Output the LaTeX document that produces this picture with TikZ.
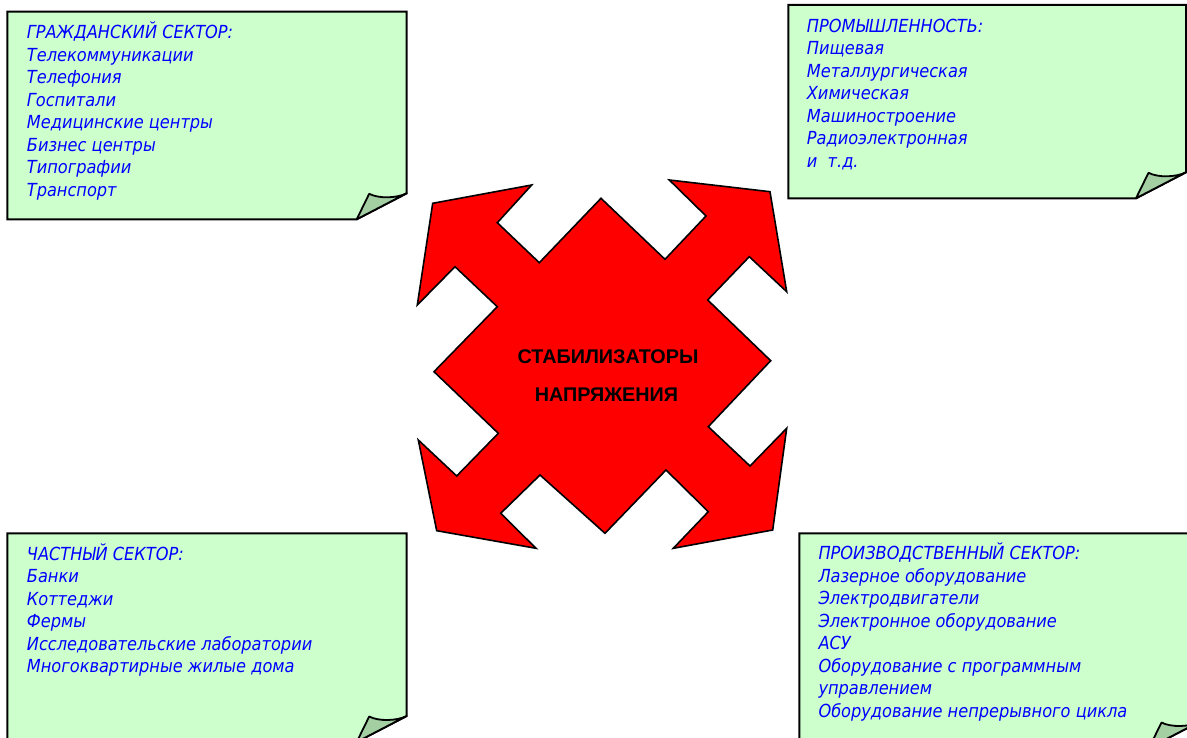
\documentclass[tikz,border=0pt]{standalone}
\usepackage{fontspec}
\newfontfamily\notefont{DejaVu Sans Condensed}
\newfontfamily\titlefont{Liberation Sans}
\definecolor{notegreen}{HTML}{CCFFCC}
\definecolor{flapgreen}{HTML}{A3CFA3}
\definecolor{notblue}{HTML}{0000FF}
\definecolor{arrred}{HTML}{FF0000}
\newcommand\NoteBox[4]{%
  \draw[boxline] (#1,#2) -- (#3,#2) -- (#3,{#4-26}) -- ({#3-50},#4) -- (#1,#4) -- cycle;
  \draw[flapline] ({#3-50},#4) -- ({#3-37.5},{#4-25.5}) .. controls ({#3-28},{#4-20.5}) and ({#3-10},{#4-21}) .. (#3,{#4-26}) -- cycle;
}
\begin{document}
\begin{tikzpicture}[x=1pt,y=-1pt,
  boxline/.style={draw=black,line width=2pt,fill=notegreen,line join=miter},
  flapline/.style={draw=black,line width=1.8pt,fill=flapgreen,line join=round},
  notetext/.style={anchor=base west,align=left,inner sep=0pt,text=notblue,
    font=\notefont\itshape\fontsize{18}{22.5}\selectfont},
  crosslabel/.style={anchor=base,inner sep=0pt,text=black,
    font=\titlefont\bfseries\fontsize{19.8}{22}\selectfont}]
\useasboundingbox (0,0) rectangle (1187,738);
\clip (0,0) rectangle (1187,738);
\fill[white] (0,0) rectangle (1187,738);

% note boxes
\NoteBox{7.3}{11.7}{406.7}{219.3}
\NoteBox{788.3}{5}{1186}{198.3}
\NoteBox{7.3}{533.3}{406.7}{742}
\NoteBox{799.3}{533.3}{1199}{748}

% text blocks: anchor is the baseline of the last line
\node[notetext] (civil) at (26.7,196.5) {ГРАЖДАНСКИЙ СЕКТОР:\\Телекоммуникации\\Телефония\\Госпитали\\Медицинские центры\\Бизнес центры\\Типографии\\Транспорт};
\node[notetext] (industry) at (806.7,167.5) {ПРОМЫШЛЕННОСТЬ:\\Пищевая\\Металлургическая\\Химическая\\Машиностроение\\Радиоэлектронная\\и\ \ т.д.};
\node[notetext] (private) at (26.7,672.5) {ЧАСТНЫЙ СЕКТОР:\\Банки\\Коттеджи\\Фермы\\Исследовательские лаборатории\\Многоквартирные жилые дома};
\node[notetext] (production) at (818.3,717) {ПРОИЗВОДСТВЕННЫЙ СЕКТОР:\\Лазерное оборудование\\Электродвигатели\\Электронное оборудование\\АСУ\\Оборудование с программным\\управлением\\Оборудование непрерывного цикла};

% central four-way arrow
\draw[draw=black,line width=1.6pt,fill=arrred,line join=miter]
  (432.7,203.3) -- (531.7,185) -- (497.3,222.7) -- (539.3,262.7) -- (601,198.3)
  -- (665,259.3) -- (706,216) -- (669.3,180) -- (770,191.7) -- (786.7,291.7)
  -- (749.3,256.7) -- (707.7,300) -- (770.7,360.7) -- (708.3,426.7) -- (750,466)
  -- (786.7,428.3) -- (772.7,530) -- (673.3,548.3) -- (708.3,511.7) -- (666,470)
  -- (605,533.3) -- (540,475) -- (500.7,513.3) -- (536,548.3) -- (436.7,530.7)
  -- (418.3,440) -- (456.7,476) -- (498.3,433.3) -- (434,371.7) -- (497.3,306.7)
  -- (455,266.7) -- (417.3,305) -- cycle;

\node[crosslabel] (lab1) at (608,363.3) {СТАБИЛИЗАТОРЫ};
\node[crosslabel] (lab2) at (606.5,401.7) {НАПРЯЖЕНИЯ};
\end{tikzpicture}
\end{document}
